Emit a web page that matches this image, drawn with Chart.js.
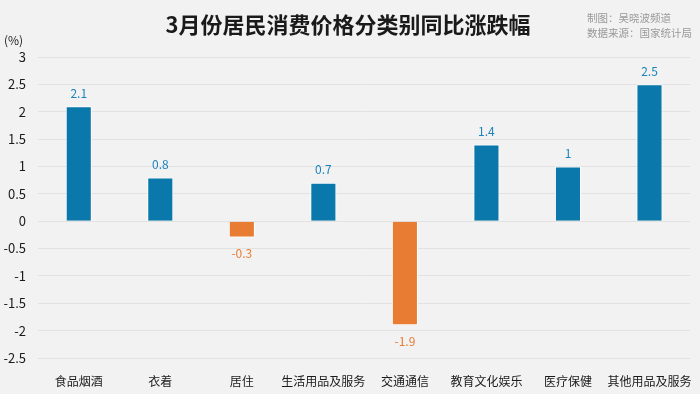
<!DOCTYPE html>
<html>
<head>
<meta charset="utf-8">
<script src="https://cdn.jsdelivr.net/npm/chart.js@4"></script>
<style>
  html, body { margin: 0; padding: 0; background: #f2f2f2; }
  #wrap { width: 700px; height: 394px; }
</style>
</head>
<body>
<div id="wrap"><canvas id="cpiChart" width="700" height="394"></canvas></div>
<script>
// 3月份居民消费价格分类别同比涨跌幅
const categories = ['食品烟酒', '衣着', '居住', '生活用品及服务', '交通通信', '教育文化娱乐', '医疗保健', '其他用品及服务'];
const changes = [2.1, 0.8, -0.3, 0.7, -1.9, 1.4, 1, 2.5];
const yTicks = [3, 2.5, 2, 1.5, 1, 0.5, 0, -0.5, -1, -1.5, -2, -2.5];

const BLUE = '#0a78aa';
const ORANGE = '#e87c33';
const FONT = '"Noto Sans CJK SC", "Noto Sans", sans-serif';

const labelPlugin = {
    id: 'labels',
    afterDatasetsDraw(chart) {
        const ctx = chart.ctx;
        const meta = chart.getDatasetMeta(0);
        ctx.save();
        ctx.font = '12px ' + FONT;
        ctx.textAlign = 'center';
        ctx.textBaseline = 'middle';
        meta.data.forEach((bar, i) => {
            const v = changes[i];
            if (v >= 0) {
                ctx.fillStyle = '#1a84bd';
                ctx.fillText(String(v), bar.x, bar.y - 13);
            } else {
                ctx.fillStyle = ORANGE;
                ctx.fillText(String(v), bar.x, bar.y + 16);
            }
        });
        ctx.restore();
    },
    afterDraw(chart) {
        const ctx = chart.ctx;
        ctx.save();
        // title
        ctx.fillStyle = '#1a1a1a';
        ctx.font = 'bold 22px ' + FONT;
        ctx.textAlign = 'center';
        ctx.textBaseline = 'middle';
        ctx.fillText('3月份居民消费价格分类别同比涨跌幅', 348, 25);
        // source
        ctx.fillStyle = '#999999';
        ctx.font = '10.5px ' + FONT;
        ctx.textAlign = 'left';
        ctx.fillText('制图：吴晓波频道', 587, 18);
        ctx.fillText('数据来源：国家统计局', 587, 33);
        // unit
        ctx.fillStyle = '#222222';
        ctx.font = '12px ' + FONT;
        ctx.fillText('(%)', 4, 40);
        ctx.restore();
    }
};

new Chart(document.getElementById('cpiChart'), {
    type: 'bar',
    data: {
        labels: categories,
        datasets: [{
            data: changes,
            backgroundColor: changes.map(v => v >= 0 ? BLUE : ORANGE),
            borderColor: '#ffffff',
            borderWidth: 1,
            categoryPercentage: 1,
            barPercentage: 0.32
        }]
    },
    options: {
        responsive: false,
        animation: false,
        layout: { padding: { top: 57, right: 8, left: 0, bottom: 0 } },
        plugins: {
            legend: { display: false },
            tooltip: { enabled: false }
        },
        scales: {
            x: {
                grid: { display: false },
                border: { display: false },
                ticks: {
                    color: '#1a1a1a',
                    font: { family: FONT, size: 12 },
                    padding: 8,
                    maxRotation: 0,
                    autoSkip: false
                },
                afterFit(scale) { scale.height = 36; }
            },
            y: {
                min: -2.5,
                max: 3,
                afterBuildTicks(scale) { scale.ticks = yTicks.map(v => ({ value: v })); },
                grid: { color: '#e2e2e2', drawTicks: false },
                border: { display: false },
                ticks: {
                    color: '#1a1a1a',
                    font: { family: FONT, size: 13 },
                    padding: 12,
                    callback: v => String(v)
                },
                afterFit(scale) { scale.width = 38; }
            }
        }
    },
    plugins: [labelPlugin]
});
</script>
</body>
</html>
